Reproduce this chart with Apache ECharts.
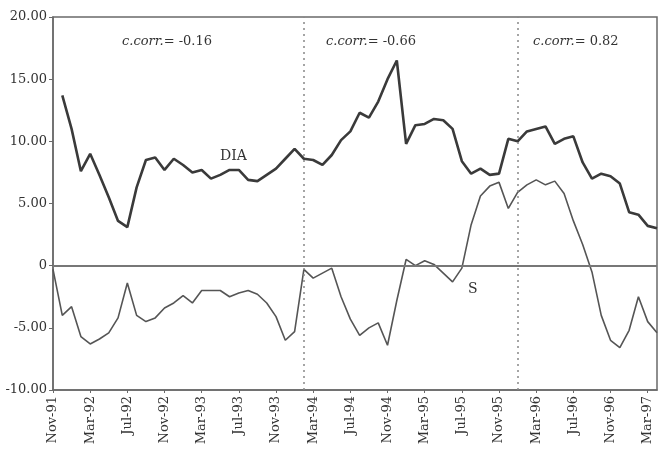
<!DOCTYPE html>
<html>
<head>
<meta charset="utf-8">
<script src="https://cdn.jsdelivr.net/npm/echarts@6/dist/echarts.min.js"></script>
<style>
  html, body { margin: 0; padding: 0; background: #fff; }
  #chart { width: 660px; height: 452px; }
</style>
</head>
<body>
<div id="chart"></div>
<script>
// monthly, Nov-91 .. Apr-97
const months = ["Jan", "Feb", "Mar", "Apr", "May", "Jun", "Jul", "Aug", "Sep", "Oct", "Nov", "Dec"];
const categories = [];
for (let k = 10; k <= 10 + 65; k++) {
    const y = 91 + Math.floor(k / 12);
    categories.push(months[k % 12] + "-" + String(y % 100).padStart(2, "0"));
}

const diaValues = [
    null, 13.7, 11.0, 7.6, 9.0, 7.3, 5.5, 3.6, 3.1, 6.3,
    8.5, 8.7, 7.7, 8.6, 8.1, 7.5, 7.7, 7.0, 7.3, 7.7,
    7.7, 6.9, 6.8, 7.3, 7.8, 8.6, 9.4, 8.6, 8.5, 8.1,
    8.9, 10.1, 10.8, 12.3, 11.9, 13.2, 15.0, 16.5, 9.8, 11.3,
    11.4, 11.8, 11.7, 11.0, 8.4, 7.4, 7.8, 7.3, 7.4, 10.2,
    10.0, 10.8, 11.0, 11.2, 9.8, 10.2, 10.4, 8.3, 7.0, 7.4,
    7.2, 6.6, 4.3, 4.1, 3.2, 3.0
];

const sValues = [
    -0.3, -4.0, -3.3, -5.7, -6.3, -5.9, -5.4, -4.2, -1.4, -4.0,
    -4.5, -4.2, -3.4, -3.0, -2.4, -3.0, -2.0, -2.0, -2.0, -2.5,
    -2.2, -2.0, -2.3, -3.0, -4.1, -6.0, -5.3, -0.3, -1.0, -0.6,
    -0.2, -2.5, -4.3, -5.6, -5.0, -4.6, -6.4, -2.8, 0.5, 0.0,
    0.4, 0.1, -0.6, -1.3, -0.2, 3.3, 5.6, 6.4, 6.7, 4.6,
    5.9, 6.5, 6.9, 6.5, 6.8, 5.8, 3.6, 1.7, -0.5, -4.0,
    -6.0, -6.6, -5.2, -2.5, -4.5, -5.4
];

const breakMonths = ["Feb-94", "Jan-96"];
const corrLabels = ["-0.16", "-0.66", "0.82"];

const serif = "DejaVu Serif";
const axisGray = "#6a6a6a";

const chart = echarts.init(document.getElementById("chart"), null, { renderer: "canvas" });

function corrText(left, value) {
    return {
        type: "text",
        left: left,
        top: 35,
        style: {
            text: "{i|c.corr.}{n|= " + value + "}",
            rich: {
                i: { fontFamily: serif, fontStyle: "italic", fontSize: 13, fill: "#333" },
                n: { fontFamily: serif, fontSize: 13, fill: "#333" },
            },
        },
    };
}

const option = {
    animation: false,
    backgroundColor: "#fff",
    grid: {
        left: 53,
        right: 3,
        top: 17,
        bottom: 62,
        show: true,
        borderColor: axisGray,
        borderWidth: 1.5,
    },
    xAxis: {
        type: "category",
        data: categories,
        boundaryGap: false,
        axisLine: { onZero: false, lineStyle: { color: axisGray, width: 1.5 } },
        axisTick: { interval: 3, length: 3, lineStyle: { color: axisGray } },
        axisLabel: {
            interval: 3,
            rotate: 90,
            margin: 6,
            fontFamily: serif,
            fontSize: 13,
            color: "#333",
        },
        splitLine: { show: false },
    },
    yAxis: {
        type: "value",
        min: -10,
        max: 20,
        interval: 5,
        axisLine: { show: true, lineStyle: { color: axisGray, width: 1.5 } },
        axisTick: { show: true, length: 4, lineStyle: { color: axisGray } },
        axisLabel: {
            margin: 6,
            fontFamily: serif,
            fontSize: 13,
            color: "#333",
            formatter: (v) => (v === 0 ? "0" : v.toFixed(2)),
        },
        splitLine: { show: false },
    },
    series: [
        {
            name: "DIA",
            type: "line",
            data: diaValues,
            showSymbol: false,
            lineStyle: { color: "#3a3a3a", width: 2.6 },
            z: 3,
        },
        {
            name: "S",
            type: "line",
            data: sValues,
            showSymbol: false,
            lineStyle: { color: "#555", width: 1.6 },
            z: 2,
            markLine: {
                silent: true,
                symbol: "none",
                label: { show: false },
                data: [
                    { yAxis: 0, lineStyle: { color: "#777", width: 2, type: "solid" } },
                    { xAxis: breakMonths[0], lineStyle: { color: "#888", width: 1.5, type: [2, 4] } },
                    { xAxis: breakMonths[1], lineStyle: { color: "#888", width: 1.5, type: [2, 4] } },
                ],
            },
        },
    ],
    graphic: [
        corrText(122, corrLabels[0]),
        corrText(326, corrLabels[1]),
        corrText(533, corrLabels[2]),
        {
            type: "text",
            left: 220,
            top: 149,
            style: { text: "DIA", fontFamily: serif, fontSize: 14, fill: "#333" },
        },
        {
            type: "text",
            left: 468,
            top: 282,
            style: { text: "S", fontFamily: serif, fontSize: 14, fill: "#333" },
        },
    ],
};

chart.setOption(option);
</script>
</body>
</html>
